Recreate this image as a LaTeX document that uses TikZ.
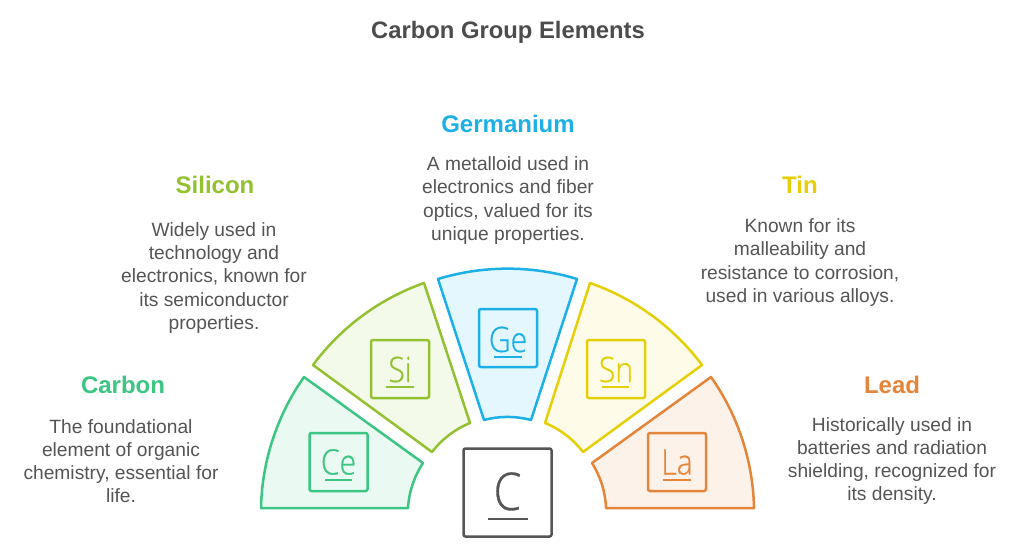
\documentclass[tikz,border=0pt]{standalone}
\usepackage{fontspec}
\setmainfont{Liberation Sans}
\newfontfamily\symfont[FakeBold=0.6,FakeStretch=0.86]{Open Sans Light}
\definecolor{cgreen}{HTML}{3CC583}\definecolor{cgreenf}{HTML}{EAF9F2}
\definecolor{clime}{HTML}{94C132}\definecolor{climef}{HTML}{F4FAE9}
\definecolor{cblue}{HTML}{1CB0E8}\definecolor{cbluef}{HTML}{E5F7FE}
\definecolor{cyel}{HTML}{E5CF07}\definecolor{cyelf}{HTML}{FEFCE8}
\definecolor{corg}{HTML}{E5853A}\definecolor{corgf}{HTML}{FDF2E9}
\definecolor{cgrey}{HTML}{555555}
\tikzset{
 sector/.style={line width=2.5pt,line join=round},
 arcout/.style={bend left=17,looseness=.87},
 arcin/.style={bend right=15,looseness=.87},
 symbox/.style={draw,line width=2.5pt,rounded corners=2pt,minimum size=58pt,inner sep=0pt},
 sym/.style={anchor=base,inner sep=0pt,font=\symfont\fontsize{35}{35}\selectfont},
 uline/.style={line width=2.5pt},
 head/.style={font=\bfseries\fontsize{24}{24}\selectfont,inner sep=0pt},
 body/.style={font=\fontsize{19.2}{23.2}\selectfont,text=cgrey,align=center,inner sep=0pt},
}
\begin{document}
\begin{tikzpicture}[x=1pt,y=-1pt]
\useasboundingbox (0,0) rectangle (1024,556);
\fill[white] (0,0) rectangle (1024,556);
\node[font=\bfseries\fontsize{23.8}{25}\selectfont,text=cgrey!90!black,inner sep=0pt] (title) at (508,32.5) {Carbon Group Elements};
% sectors
\draw[sector,draw=cgreen,fill=cgreenf] (261,508) to[arcout] (304,377) -- (423,463) to[arcin] (408,508) -- cycle;
\draw[sector,draw=clime,fill=climef] (313,365) to[arcout] (424,283) -- (470,423) to[arcin] (432,452) -- cycle;
\draw[sector,draw=cblue,fill=cbluef] (438,279) to[arcout] (577,279) -- (531,420) to[arcin] (484,420) -- cycle;
\draw[sector,draw=cyel,fill=cyelf] (590,283) to[arcout] (702,365) -- (583,452) to[arcin] (545,423) -- cycle;
\draw[sector,draw=corg,fill=corgf] (711,377) to[arcout] (754,508) -- (606,508) to[arcin] (592,463) -- cycle;
% boxes
\node[symbox,draw=cgreen] (bce) at (338.5,462) {};
\node[symbox,draw=clime] (bsi) at (400,369) {};
\node[symbox,draw=cblue] (bge) at (508,338) {};
\node[symbox,draw=cyel] (bsn) at (616,369) {};
\node[symbox,draw=corg] (bla) at (677,462) {};
\node[symbox,draw=cgrey,minimum size=88pt] (bc) at (507.5,492.5) {};
% symbols
\node[sym,text=cgreen] (sce) at (338.5,474.5) {Ce};
\node[sym,text=clime] (ssi) at (400,382) {Si};
\node[sym,text=cblue] (sge) at (508,352) {Ge};
\node[sym,text=cyel] (ssn) at (616,382) {Sn};
\node[sym,text=corg] (sla) at (677,474.5) {La};
\node[sym,text=cgrey,font=\symfont\fontsize{52}{52}\selectfont] (sc) at (507.5,510) {C};
% underlines
\draw[uline,cgreen] (325,480) -- (352,480);
\draw[uline,clime] (386,387) -- (414,387);
\draw[uline,cblue] (494,357) -- (522,357);
\draw[uline,cyel] (602,387) -- (629,387);
\draw[uline,corg] (663,480) -- (691,480);
\draw[uline,cgrey] (488,519) -- (528,519);
% headings
\node[head,text=cgreen] (hc) at (123,385) {Carbon};
\node[head,text=clime] (hs) at (215,185) {Silicon};
\node[head,text=cblue] (hg) at (508,124) {Germanium};
\node[head,text=cyel] (ht) at (800,185) {Tin};
\node[head,text=corg] (hl) at (892,385) {Lead};
% bodies
\node[body] (tc) at (121,461) {The foundational\\element of organic\\chemistry, essential for\\life.};
\node[body] (ts) at (214,278) {Widely used in\\technology and\\electronics, known for\\its semiconductor\\properties.};
\node[body] (tg) at (508,200.5) {A metalloid used in\\electronics and fiber\\optics, valued for its\\unique properties.};
\node[body] (tt) at (800,262.5) {Known for its\\malleability and\\resistance to corrosion,\\used in various alloys.};
\node[body] (tl) at (892,461) {Historically used in\\batteries and radiation\\shielding, recognized for\\its density.};
\end{tikzpicture}
\end{document}
